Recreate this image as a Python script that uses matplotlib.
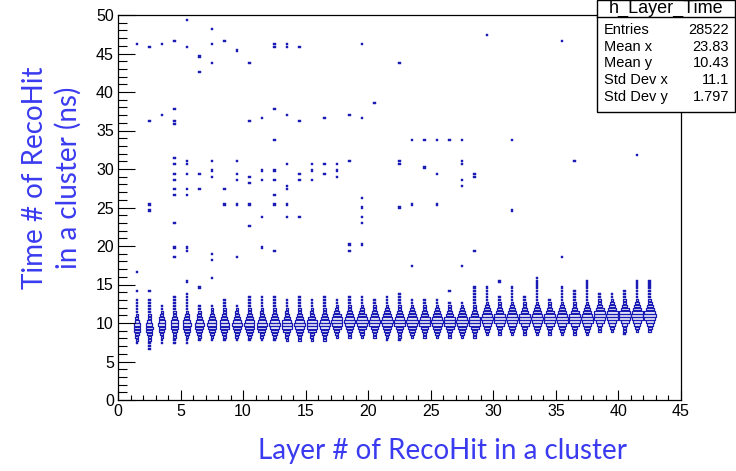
import numpy as np
import matplotlib
matplotlib.use('Agg')
import matplotlib.pyplot as plt
from matplotlib.patches import Rectangle
from matplotlib.collections import PatchCollection

# ---------------- data ----------------
layers = list(range(1, 43))
peak_time = [9.6, 9.6, 9.7, 9.7, 9.7, 9.8, 9.8, 9.8, 9.8, 9.9, 9.9, 9.9, 10.0, 10.0,
             10.0, 10.0, 10.1, 10.1, 10.1, 10.2, 10.2, 10.2, 10.3, 10.3, 10.3, 10.4, 10.4, 10.4,
             10.5, 10.5, 10.5, 10.6, 10.6, 10.6, 10.7, 10.7, 10.7, 10.8, 10.8, 10.9, 10.9, 11.0]
peak_count = [45, 50, 55, 60, 70, 80, 90, 95, 100, 105, 110, 115, 120, 120,
              125, 125, 130, 130, 135, 135, 140, 140, 145, 145, 145, 150, 150, 150,
              150, 155, 155, 155, 155, 160, 160, 160, 160, 160, 165, 165, 165, 170]
# relative bin contents around the peak bin (offsets -5 .. +5 bins)
core_profile = [0.03, 0.08, 0.2, 0.45, 0.8, 1.0, 0.75, 0.42, 0.2, 0.08, 0.04]
tail_low = [7.3, 6.7, 7.3, 7.3, 7.3, 7.7, 7.7, 7.7, 7.7, 8.2, 8.2, 8.2, 8.2, 8.2,
            8.2, 8.2, 8.2, 8.2, 8.2, 8.2, 8.0, 7.8, 8.2, 8.7, 8.7, 8.2, 8.7, 8.7,
            8.7, 8.7, 8.7, 9.3, 9.3, 8.7, 9.3, 9.3, 9.3, 9.3, 9.3, 8.7, 9.3, 9.3]
tail_high = [13.0, 12.8, 12.3, 13.4, 13.8, 12.4, 12.4, 12.8, 12.4, 13.3, 13.3, 13.3, 12.8, 13.3,
             12.8, 13.3, 12.8, 13.3, 13.3, 12.8, 13.3, 13.9, 12.9, 12.9, 12.9, 12.5, 12.5, 14.8,
             14.8, 13.3, 14.8, 13.3, 15.7, 12.9, 14.8, 14.3, 15.4, 13.8, 13.8, 14.3, 15.4, 15.4]
outlier_layer = [1, 1, 1, 2, 2, 2, 2, 2, 3, 3, 4, 4, 4, 4, 4, 4, 4, 4, 4, 4, 4, 4, 4,
                 5, 5, 5, 5, 5, 5, 5, 5, 5, 5, 6, 6, 6, 6, 6, 7, 7, 7, 7, 7, 7, 7, 7, 7,
                 8, 8, 8, 9, 9, 9, 9, 9, 9, 10, 10, 10, 10, 10, 10, 11, 11, 11, 11, 11,
                 12, 12, 12, 12, 12, 12, 12, 12, 12, 13, 13, 13, 13, 13, 13, 13, 13,
                 14, 14, 14, 14, 14, 15, 15, 15, 16, 16, 16, 17, 17, 17, 18, 18, 18, 18,
                 19, 19, 19, 19, 19, 19, 19, 20, 22, 22, 22, 22, 23, 23, 23, 24, 24, 25, 25, 25,
                 26, 26, 27, 27, 27, 27, 27, 27, 28, 28, 28, 29, 30, 31, 31, 35, 35, 36, 41]
outlier_time = [46.2, 16.7, 14.3, 45.7, 36.2, 25.3, 24.7, 14.3, 46.2, 37.1, 46.7, 37.7, 36.2, 35.7,
                31.4, 30.5, 29.5, 28.5, 27.5, 26.7, 22.9, 19.7, 18.7,
                49.6, 45.7, 31.0, 30.5, 29.5, 27.5, 26.6, 19.8, 19.3, 15.4,
                44.6, 42.6, 29.5, 27.5, 14.8,
                48.1, 46.2, 43.7, 31.0, 30.0, 29.0, 19.2, 18.2, 15.7,
                46.7, 27.5, 25.3, 45.2, 31.0, 29.5, 28.5, 25.3, 18.5,
                43.7, 36.2, 29.2, 28.3, 25.3, 22.8, 36.6, 29.7, 28.5, 23.9, 19.8,
                46.2, 45.7, 37.7, 33.9, 29.7, 28.5, 26.7, 25.3, 19.3,
                45.7, 46.2, 37.1, 30.5, 28.0, 27.5, 25.3, 23.7,
                45.7, 36.2, 29.5, 28.5, 23.7, 30.5, 29.7, 28.6, 36.6, 30.5, 29.5,
                30.5, 29.7, 29.0, 37.1, 31.0, 20.3, 19.3,
                46.2, 36.6, 26.1, 25.2, 23.7, 22.9, 20.4, 38.6, 43.7, 31.0, 30.5, 25.0,
                33.7, 25.3, 17.3, 33.7, 30.3, 33.7, 29.6, 25.3,
                33.7, 14.3, 33.7, 31.0, 30.5, 28.6, 28.0, 17.3, 29.5, 29.2, 19.3,
                47.2, 15.6, 33.7, 24.8, 46.7, 18.6, 31.2, 31.7]

x_ticks = [0, 5, 10, 15, 20, 25, 30, 35, 40, 45]
y_ticks = [0, 5, 10, 15, 20, 25, 30, 35, 40, 45, 50]
stats_names = ["Entries", "Mean x", "Mean y", "Std Dev x", "Std Dev y"]
stats_values = ["28522", "23.83", "10.43", "11.1", "1.797"]
hist_name = "h_Layer_Time"
x_title = "Layer # of RecoHit in a cluster"
y_title = "Time # of RecoHit\nin a cluster (ns)"

# ---------------- build the 2D histogram ----------------
ybin = 0.4
nyb = int(round(50 / ybin))
counts = np.zeros((len(layers), nyb))
half = len(core_profile) // 2
for i, l in enumerate(layers):
    pb = int(peak_time[i] // ybin)
    lo = int(tail_low[i] // ybin)
    hi = int(tail_high[i] // ybin)
    for b in range(lo, hi + 1):
        counts[i, b] = 1
    for k, rel in enumerate(core_profile):
        b = pb + k - half
        counts[i, b] = max(counts[i, b], round(peak_count[i] * rel))
for l, t in zip(outlier_layer, outlier_time):
    b = int(t // ybin)
    if b < nyb:
        counts[layers.index(l), b] += 1

cmax = counts.max()
blue = '#1a1ab4'

fig = plt.figure(figsize=(7.36, 4.71), dpi=100)
ax = fig.add_axes([118 / 736, 1 - 400 / 471, (681 - 118) / 736, (400 - 15) / 471])

outline, filled = [], []
for i, l in enumerate(layers):
    for b in range(nyb):
        c = counts[i, b]
        if c <= 0:
            continue
        r = np.sqrt(c / cmax)
        w = max(r * 1.0, 0.2)
        h = max(r * ybin, 0.29)
        xc = l + 0.5
        yc = (b + 0.5) * ybin
        rect = Rectangle((xc - w / 2, yc - h / 2), w, h)
        if c <= 3:
            filled.append(rect)
        else:
            outline.append(rect)
ax.add_collection(PatchCollection(filled, facecolor=blue, edgecolor=blue, linewidth=0.3))
ax.add_collection(PatchCollection(outline, facecolor='none', edgecolor=blue, linewidth=0.9))

ax.set_xlim(0, 45)
ax.set_ylim(0, 50)
ax.set_xticks(x_ticks)
ax.set_yticks(y_ticks)
ax.set_xticks(np.arange(0, 46, 1), minor=True)
ax.set_yticks(np.arange(0, 51, 1), minor=True)
tf = dict(family='Liberation Sans', size=11.5)
ax.set_xticklabels([str(v) for v in x_ticks], **tf)
ax.set_yticklabels([str(v) for v in y_ticks], **tf)
ax.tick_params(axis='x', which='major', direction='in', length=7.5, width=0.8, pad=3)
ax.tick_params(axis='x', which='minor', direction='in', length=3.8, width=0.8)
ax.tick_params(axis='y', which='major', direction='in', length=12, width=0.8, pad=3)
ax.tick_params(axis='y', which='minor', direction='in', length=6.5, width=0.8)
for s in ax.spines.values():
    s.set_linewidth(0.9)

title_color = '#3a3af0'
fig.text(443 / 736, 1 - 451 / 471, x_title, ha='center', va='center',
         family='Lato', size=20, color=title_color)
fig.text(52 / 736, 1 - 178 / 471, y_title, ha='center', va='center', rotation=90,
         family='Lato', size=20, color=title_color, linespacing=1.3)

# stats box
bx0, bx1, by0, by1 = 597 / 736, 735 / 736, 1 - 112 / 471, 1.0
fig.patches.append(Rectangle((bx0, by0), bx1 - bx0, by1 - by0, transform=fig.transFigure,
                             facecolor='white', edgecolor='black', linewidth=1.0, zorder=5))
fig.lines.append(plt.Line2D([bx0, bx1], [1 - 16.7 / 471] * 2, transform=fig.transFigure,
                            color='black', linewidth=1.0, zorder=6))
sf = dict(family='Liberation Sans', size=10.5, zorder=7)
fig.text((bx0 + bx1) / 2, 1 - 8.5 / 471, hist_name, ha='center', va='center',
         family='Liberation Sans', size=13, zorder=7)
for k, (n, v) in enumerate(zip(stats_names, stats_values)):
    yy = 1 - (30 + 16.7 * k) / 471
    fig.text(604 / 736, yy, n, ha='left', va='center', **sf)
    fig.text(729 / 736, yy, v, ha='right', va='center', **sf)

fig.savefig('out.png', dpi=100)
